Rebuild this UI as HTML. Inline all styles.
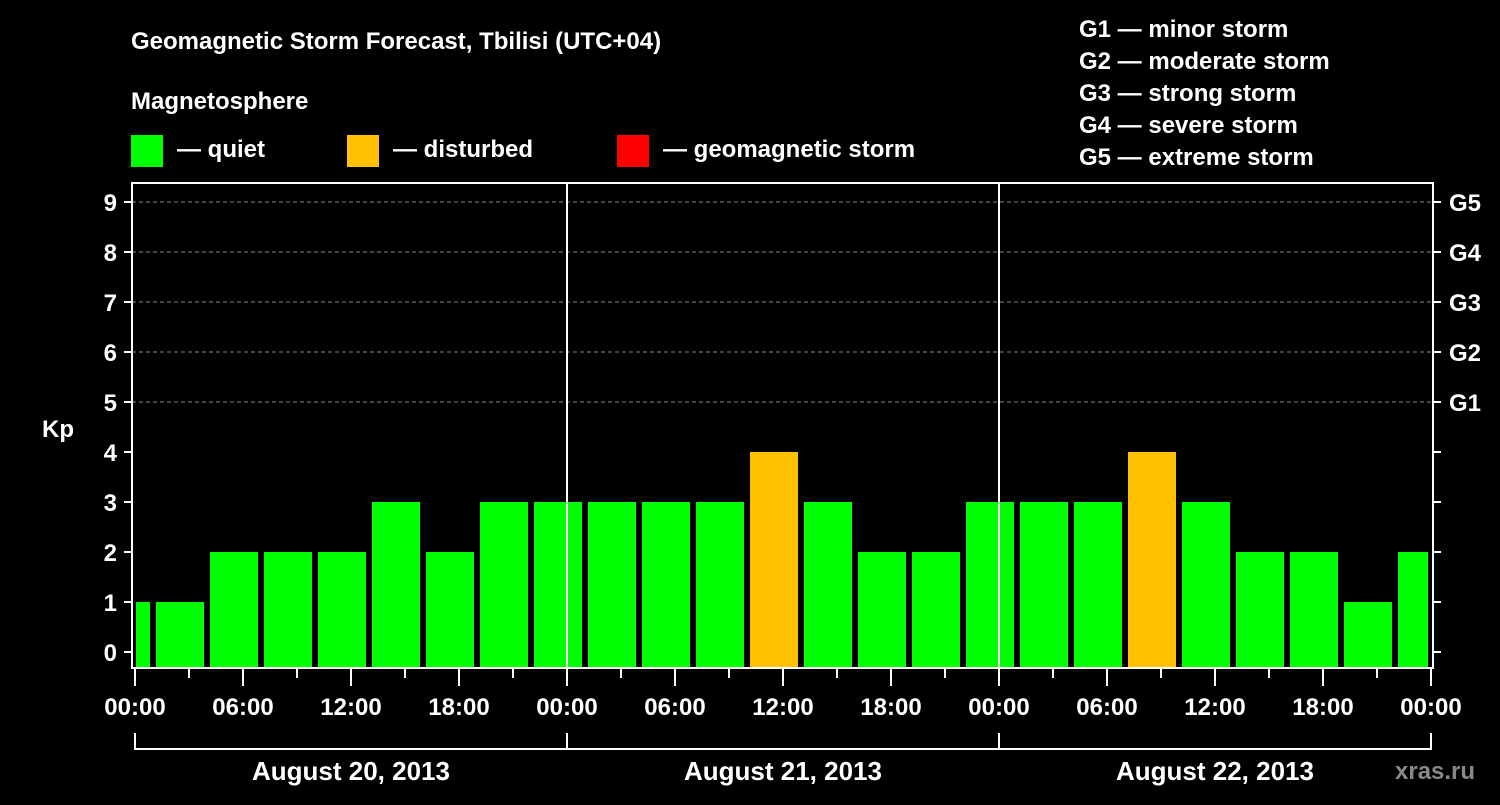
<!DOCTYPE html>
<html><head><meta charset="utf-8"><style>
body{margin:0;background:#000;width:1500px;height:800px;overflow:hidden}
svg text{font-family:"Liberation Sans",sans-serif;font-weight:bold;fill:#fff}
</style></head><body>
<svg id="c" width="1500" height="800">
<rect width="1500" height="800" fill="#000"/>
<text x="131" y="49" font-size="24">Geomagnetic Storm Forecast, Tbilisi (UTC+04)</text>
<text x="131" y="109" font-size="24">Magnetosphere</text>
<g><rect x="131" y="135" width="32" height="32" fill="#00ff00"/><text x="177" y="157" font-size="24">— quiet</text></g>
<g><rect x="347" y="135" width="32" height="32" fill="#ffc000"/><text x="393" y="157" font-size="24">— disturbed</text></g>
<g><rect x="617" y="135" width="32" height="32" fill="#ff0000"/><text x="663" y="157" font-size="24">— geomagnetic storm</text></g>
<g font-size="24">
<text x="1079" y="37">G1 — minor storm</text>
<text x="1079" y="69">G2 — moderate storm</text>
<text x="1079" y="101">G3 — strong storm</text>
<text x="1079" y="133">G4 — severe storm</text>
<text x="1079" y="165">G5 — extreme storm</text>
</g>
<text x="1395" y="779" font-size="24" style="fill:#888">xras.ru</text>
<g id="plot"></g>
</svg>
<script>
const kpValues=[1,1,2,2,2,3,2,3,3,3,3,3,4,3,2,2,3,3,3,4,3,2,2,1,2];
const startHours=[0,1,4,7,10,13,16,19,22,25,28,31,34,37,40,43,46,49,52,55,58,61,64,67,70];
const endHours=[1,4,7,10,13,16,19,22,25,28,31,34,37,40,43,46,49,52,55,58,61,64,67,70,72];
const dayLabels=["August 20, 2013","August 21, 2013","August 22, 2013"];
const timeLabels=["00:00","06:00","12:00","18:00"];
const gLabels=["G1","G2","G3","G4","G5"];
const NS="http://www.w3.org/2000/svg";
const g=document.getElementById('plot');
const X0=135,PXH=18,Y0=652,PXK=50,L=132,R=1433,T=183,B=668;
const xs=h=>X0+h*PXH, ys=k=>Y0-k*PXK;
function el(t,a){const e=document.createElementNS(NS,t);for(const k in a)e.setAttribute(k,a[k]);g.appendChild(e);return e;}
// grid
for(let k=5;k<=9;k++){const l=el('line',{x1:L,x2:R,y1:ys(k),y2:ys(k),stroke:'#888','stroke-dasharray':'4,3'});

}
// bars
kpValues.forEach((v,i)=>{
 let x1=xs(startHours[i])+3,x2=xs(endHours[i])-3;
 if(startHours[i]===0)x1=xs(0)+1;
 const col=v>=5?'#ff0000':v>=4?'#ffc000':'#00ff00';
 const r=el('rect',{x:x1,y:ys(v),width:x2-x1,height:B-ys(v),fill:col});
 
 
});
// day lines
for(let d=1;d<3;d++){const l=el('line',{x1:xs(24*d),x2:xs(24*d),y1:T,y2:B,stroke:'#fff','stroke-width':2});

}
const fr=el('rect',{x:L,y:T,width:R-L,height:B-T,fill:'none',stroke:'#fff','stroke-width':2});


// y ticks
for(let k=0;k<=9;k++){
 el('line',{x1:124,x2:L,y1:ys(k),y2:ys(k),stroke:'#fff','stroke-width':2});
 el('line',{x1:R,x2:R+8,y1:ys(k),y2:ys(k),stroke:'#fff','stroke-width':2});
 const t=el('text',{x:117,y:ys(k)+9,'font-size':24,'text-anchor':'end'});t.textContent=k;
 
 
 if(k>=5){const gt=el('text',{x:1449,y:ys(k)+9,'font-size':24});gt.textContent=gLabels[k-5];
 
 }
}
const kp=el('text',{x:42,y:437,'font-size':24});kp.textContent='Kp';


// x ticks
for(let h=0;h<=72;h+=3){
 const long=h%6===0;
 el('line',{x1:xs(h),x2:xs(h),y1:B,y2:long?686:678,stroke:'#fff','stroke-width':2});
 if(long){const t=el('text',{x:xs(h),y:715,'font-size':24,'text-anchor':'middle'});t.textContent=timeLabels[(h/6)%4];
 
 }
}
// day brackets
el('line',{x1:xs(0),x2:xs(72),y1:749,y2:749,stroke:'#fff','stroke-width':2});
for(let d=0;d<=3;d++)el('line',{x1:xs(24*d),x2:xs(24*d),y1:733,y2:750,stroke:'#fff','stroke-width':2});
dayLabels.forEach((s,d)=>{const t=el('text',{x:xs(24*d+12),y:780,'font-size':26,'text-anchor':'middle'});t.textContent=s;
 
 });
</script>
</body></html>
